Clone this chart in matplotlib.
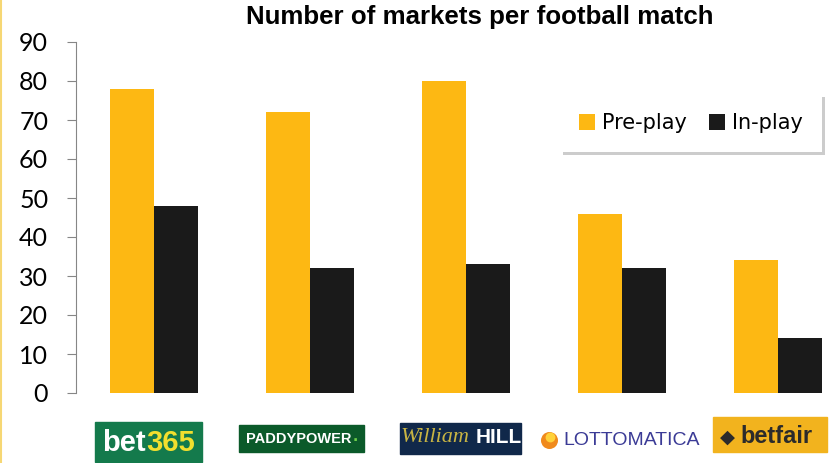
import matplotlib
matplotlib.use("Agg")
import matplotlib.pyplot as plt
from matplotlib.patches import Rectangle
from matplotlib.lines import Line2D
from matplotlib.transforms import blended_transform_factory

# -------------------------------
# Data
# -------------------------------
bookmakers = ["bet365", "Paddy Power", "William Hill", "Lottomatica", "Betfair"]
pre_play = [78, 72, 80, 46, 34]
in_play = [48, 32, 33, 32, 14]
y_ticks = [0, 10, 20, 30, 40, 50, 60, 70, 80, 90]

YELLOW = "#FDB813"
BLACK = "#1A1A1A"

# -------------------------------
# Figure / axes
# -------------------------------
fig = plt.figure(figsize=(8.31, 4.63), dpi=100)
ax = fig.add_axes([76 / 831, 70 / 463, 780 / 831, 351 / 463])

x = [i + 0.5 for i in range(len(bookmakers))]
w = 0.282
ax.bar([c - w / 2 for c in x], pre_play, width=w, color=YELLOW, label="Pre-play")
ax.bar([c + w / 2 for c in x], in_play, width=w, color=BLACK, label="In-play")

ax.set_xlim(0, len(bookmakers))
ax.set_ylim(0, 90)
ax.set_yticks(y_ticks)
ax.set_xticks([])
for s in ["top", "right", "bottom"]:
    ax.spines[s].set_visible(False)
ax.spines["left"].set_color("#868686")
ax.tick_params(axis="y", length=6.5, color="#868686", pad=13.5,
               labelsize=18, labelcolor="black")
for lab in ax.get_yticklabels():
    lab.set_family("Lato")

# title
fig.text(480 / 831, 1 - 17 / 463, "Number of markets per football match",
         ha="center", va="center", fontsize=18.6, fontweight="bold",
         family="Liberation Sans")

# legend
leg = ax.legend(loc="center", bbox_to_anchor=(691 / 831, 1 - 123 / 463),
                bbox_transform=fig.transFigure, ncol=2, frameon=True,
                fancybox=False, shadow={"color": "#cccccc", "alpha": 1},
                borderpad=0.9, handlelength=0.77, handleheight=0.77,
                handletextpad=0.34, columnspacing=1.06,
                prop={"family": "DejaVu Sans", "size": 15})
leg.get_frame().set_edgecolor("white")
leg.get_frame().set_linewidth(0)

# -------------------------------
# Logo-like category labels
# -------------------------------
tr = blended_transform_factory(ax.transData, ax.transAxes)

def box(x0, x1, y0, y1, color):
    ax.add_patch(Rectangle((x0, y0), x1 - x0, y1 - y0, transform=tr,
                           color=color, clip_on=False, zorder=3))

def label(xc, yc, s, **kw):
    ax.text(xc, yc, s, transform=tr, clip_on=False, zorder=4, **kw)

# bet365
box(0.122, 0.808, -0.197, -0.083, "#147a4c")
label(0.45, -0.142, "bet", ha="right", va="center", color="white",
      fontsize=21, fontweight="bold", family="Liberation Sans")
label(0.45, -0.142, "365", ha="left", va="center", color="#f2df2e",
      fontsize=21, fontweight="bold", family="Liberation Sans")

# paddy power
box(1.045, 1.846, -0.168, -0.091, "#0b5a2a")
label(1.43, -0.132, "PADDYPOWER", ha="center", va="center", color="white",
      fontsize=10.5, fontweight="bold", family="Liberation Sans")
label(1.79, -0.125, ".", ha="center", va="center", color="#6fcf4a",
      fontsize=10, fontweight="bold")

# william hill
box(2.077, 2.853, -0.174, -0.086, "#10284a")
label(2.30, -0.128, "William", ha="center", va="center", color="#c8b443",
      fontsize=16, style="italic", family="Liberation Serif")
label(2.71, -0.128, "HILL", ha="center", va="center", color="white",
      fontsize=15, fontweight="bold", family="Liberation Sans")

# lottomatica
ax.scatter([3.032], [-0.134], transform=tr, s=150, color="#f08a1c",
           clip_on=False, zorder=4, linewidths=0)
ax.scatter([3.040], [-0.126], transform=tr, s=50, color="#ffd23a",
           clip_on=False, zorder=5, linewidths=0)
label(3.122, -0.134, "LOTTOMATICA", ha="left", va="center", color="#3b3b96",
      fontsize=14, family="Liberation Sans")

# betfair
box(4.083, 4.814, -0.168, -0.068, "#f2b31e")
label(4.13, -0.125, "\u25c6", ha="left", va="center", color="#2b2b2b",
      fontsize=14)
label(4.72, -0.125, "betfair", ha="right", va="center", color="#2b2b2b",
      fontsize=17, fontweight="bold", family="Liberation Sans")

# thin yellow frame edge on the left
fig.add_artist(Line2D([1 / 831, 1 / 831], [0, 1], transform=fig.transFigure,
                      color="#f6d774", linewidth=1.5))

fig.savefig("out.png", dpi=100)
